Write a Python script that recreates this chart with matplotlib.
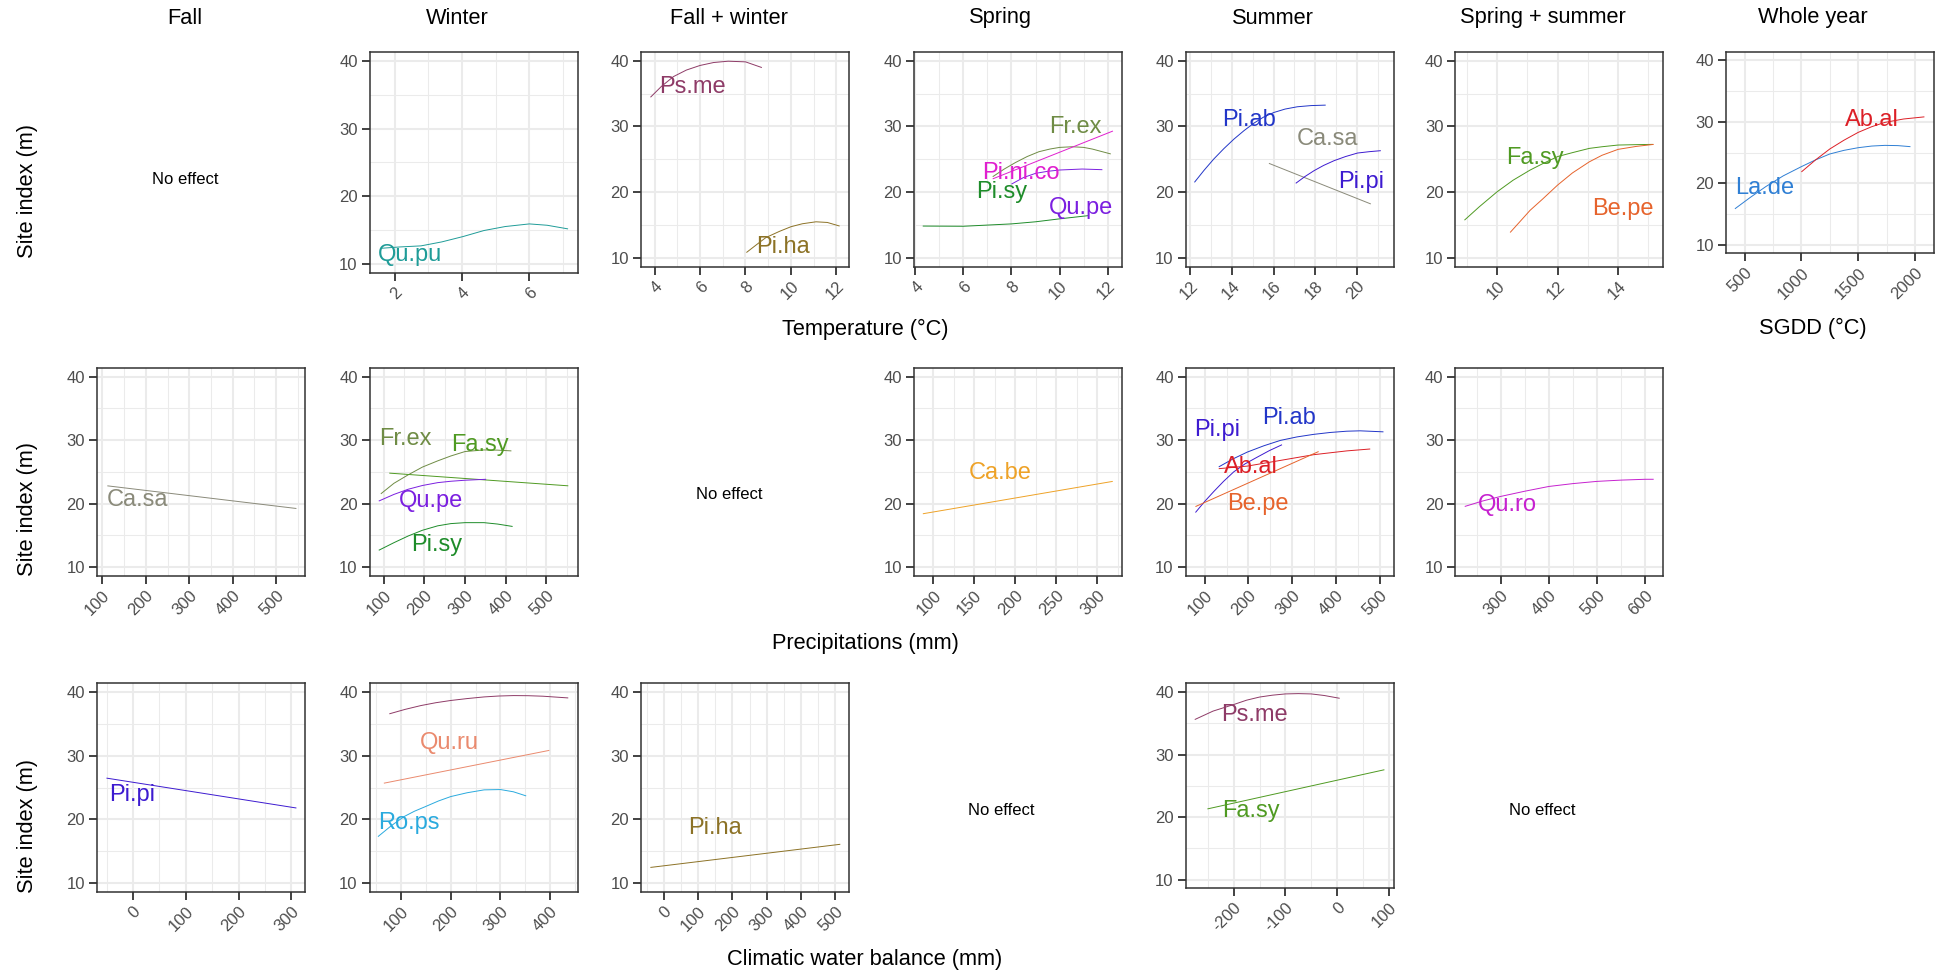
import matplotlib
matplotlib.use("Agg")
import matplotlib.pyplot as plt

plt.rcParams['font.family'] = ['Liberation Sans', 'DejaVu Sans']
plt.rcParams['axes.unicode_minus'] = False

# ------------------------------------------------------------------ data
col_titles = ["Fall", "Winter", "Fall + winter", "Spring", "Summer",
              "Spring + summer", "Whole year"]
row_label = "Site index (m)"
no_effect_text = "No effect"
y_ticks = [10, 20, 30, 40]

# Row 1 : temperature (SGDD for whole year)
T_win_Qupu_x = [1.59, 2.15, 2.78, 3.4, 4.03, 4.65, 5.28, 6.0, 6.53, 7.15]
T_win_Qupu_y = [12.3, 12.5, 12.66, 13.25, 14.04, 14.93, 15.52, 15.91, 15.71, 15.17]

T_fw_Psme_x = [3.82, 4.3, 4.83, 5.4, 6.0, 6.6, 7.24, 8.0, 8.72]
T_fw_Psme_y = [34.45, 36.1, 37.6, 38.6, 39.3, 39.75, 39.95, 39.85, 38.98]
T_fw_Piha_x = [8.04, 8.5, 8.9, 9.5, 10.0, 10.5, 11.1, 11.6, 12.14]
T_fw_Piha_y = [10.76, 12.0, 13.05, 14.0, 14.7, 15.15, 15.45, 15.35, 14.8]

T_spr_Pisy_x = [4.31, 6.0, 8.0, 9.0, 10.0, 11.22]
T_spr_Pisy_y = [14.8, 14.77, 15.13, 15.45, 15.9, 16.4]
T_spr_Qupe_x = [8.0, 8.5, 9.0, 9.5, 10.0, 10.94, 11.78]
T_spr_Qupe_y = [21.2, 22.2, 22.84, 23.15, 23.35, 23.5, 23.4]
T_spr_Frex_x = [7.22, 7.7, 8.17, 8.65, 9.14, 9.6, 10.0, 10.53, 11.0, 11.36, 12.13]
T_spr_Frex_y = [22.33, 23.5, 24.5, 25.4, 26.14, 26.55, 26.8, 26.9, 26.8, 26.55, 25.8]
T_spr_Pinico_x = [7.22, 12.22]
T_spr_Pinico_y = [22.0, 29.3]

T_sum_Piab_x = [12.19, 12.65, 13.12, 13.6, 14.09, 14.57, 15.05, 15.5, 16.01, 16.55, 17.14, 17.8, 18.5]
T_sum_Piab_y = [21.47, 23.3, 25.03, 26.6, 28.07, 29.35, 30.5, 31.4, 32.13, 32.65, 33.0, 33.18, 33.25]
T_sum_Casa_x = [15.77, 20.67]
T_sum_Casa_y = [24.37, 18.17]
T_sum_Pipi_x = [17.06, 17.5, 17.94, 18.4, 18.9, 19.45, 20.03, 20.6, 21.15]
T_sum_Pipi_y = [21.32, 22.35, 23.25, 24.05, 24.77, 25.4, 25.94, 26.15, 26.3]

T_ss_Fasy_x = [8.92, 9.41, 10.0, 10.53, 11.09, 11.5, 12.0, 12.49, 13.05, 13.47, 14.0, 14.6, 15.15]
T_ss_Fasy_y = [15.7, 17.74, 20.03, 21.8, 23.34, 24.3, 25.4, 26.0, 26.65, 26.9, 27.16, 27.22, 27.26]
T_ss_Bepe_x = [10.43, 10.74, 11.09, 11.5, 12.0, 12.49, 13.05, 13.47, 14.0, 14.6, 15.18]
T_ss_Bepe_y = [13.82, 15.4, 17.2, 18.9, 21.05, 22.9, 24.6, 25.6, 26.5, 26.95, 27.26]

G_year_Lade_x = [414, 550, 687, 840, 1000, 1125, 1250, 1375, 1500, 1620, 1736, 1850, 1961]
G_year_Lade_y = [15.84, 17.7, 19.46, 21.2, 22.7, 23.8, 24.76, 25.35, 25.78, 26.05, 26.16, 26.12, 25.95]
G_year_Abal_x = [1000, 1125, 1250, 1375, 1500, 1620, 1736, 1900, 2084]
G_year_Abal_y = [21.84, 23.8, 25.57, 27.0, 28.27, 29.2, 29.9, 30.45, 30.8]

# Row 2 : precipitations
P_fall_Casa_x = [111.6, 546.4]
P_fall_Casa_y = [22.8, 19.23]

P_win_Frex_x = [92.7, 125, 160, 195, 232.6, 265, 300, 346.6, 380, 414]
P_win_Frex_y = [21.54, 23.2, 24.53, 25.75, 26.73, 27.5, 28.2, 28.45, 28.42, 28.3]
P_win_Fasy_x = [113.5, 554]
P_win_Fasy_y = [24.8, 22.8]
P_win_Qupe_x = [87.6, 125, 160, 195, 232.6, 265, 300, 351.8]
P_win_Qupe_y = [20.4, 21.45, 22.26, 22.85, 23.3, 23.52, 23.68, 23.83]
P_win_Pisy_x = [87.6, 125, 160, 195, 232.6, 265, 300, 346.6, 380, 417]
P_win_Pisy_y = [12.65, 13.85, 14.9, 15.8, 16.5, 16.85, 17.0, 17.0, 16.78, 16.4]

P_spr_Cabe_x = [87.1, 319.1]
P_spr_Cabe_y = [18.4, 23.5]

P_sum_Pipi_x = [78.7, 100, 120.6, 143, 166.3, 192, 219.7, 248, 276.8]
P_sum_Pipi_y = [18.6, 20.35, 21.9, 23.5, 25.0, 26.25, 27.3, 28.35, 29.27]
P_sum_Piab_x = [132, 165, 196.9, 235, 273, 311, 349, 387, 425, 455.6, 509]
P_sum_Piab_y = [25.78, 27.05, 28.1, 29.1, 29.95, 30.5, 30.9, 31.2, 31.4, 31.46, 31.3]
P_sum_Abal_x = [132, 196.9, 273, 349, 425, 478.7]
P_sum_Abal_y = [25.5, 25.9, 26.8, 27.7, 28.3, 28.6]
P_sum_Bepe_x = [78.7, 360.6]
P_sum_Bepe_y = [19.53, 28.2]

P_ss_Quro_x = [225.4, 262, 300, 350, 400, 450, 500, 550, 600, 617.5]
P_ss_Quro_y = [19.55, 20.4, 21.13, 21.95, 22.7, 23.15, 23.5, 23.7, 23.83, 23.83]

# Row 3 : climatic water balance
W_fall_Pipi_x = [-50.1, 309.5]
W_fall_Pipi_y = [26.5, 21.8]

W_win_Psme_x = [76.3, 108, 139.8, 170, 200, 233, 267, 296, 326.3, 356, 385.6, 436.4]
W_win_Psme_y = [36.6, 37.3, 37.9, 38.35, 38.7, 39.0, 39.26, 39.4, 39.47, 39.45, 39.37, 39.1]
W_win_Quru_x = [65.3, 398.3]
W_win_Quru_y = [25.7, 30.86]
W_win_Rops_x = [53.4, 80, 105.9, 127, 148.3, 175, 200, 233, 267, 300, 326, 351.7]
W_win_Rops_y = [17.3, 19.0, 20.45, 21.3, 22.0, 22.9, 23.6, 24.2, 24.65, 24.7, 24.35, 23.7]

W_fw_Piha_x = [-39.2, 514.7]
W_fw_Piha_y = [12.46, 16.1]

W_sum_Psme_x = [-275.3, -240, -200, -175, -150, -125, -100, -75, -50, -25, 5]
W_sum_Psme_y = [35.6, 36.95, 38.0, 38.7, 39.2, 39.5, 39.7, 39.75, 39.7, 39.45, 39.0]
W_sum_Fasy_x = [-250.8, 91.5]
W_sum_Fasy_y = [21.3, 27.57]

# ------------------------------------------------------------------ styles
colors = {
    "Qu.pu": "#1f9c98", "Ps.me": "#8e3b67", "Pi.ha": "#8c7226",
    "Fr.ex": "#6f8c45", "Pi.ni.co": "#e01fcf", "Pi.sy": "#1e8c2a",
    "Qu.pe": "#7b1fe0", "Pi.ab": "#2236c8", "Ca.sa": "#8a8a7a",
    "Pi.pi": "#3d1bd0", "Fa.sy": "#4f9a22", "Be.pe": "#e6632c",
    "La.de": "#2f7fd4", "Ab.al": "#dc1f26", "Ca.be": "#eea227",
    "Qu.ro": "#c621cf", "Qu.ru": "#ea8a6e", "Ro.ps": "#2aaade",
}

W, H = 1955, 976
fig = plt.figure(figsize=(W / 100, H / 100), dpi=100)

col_left = [96.8, 369.5, 640.7, 913.6, 1185.5, 1455.4, 1725.6]
panel_w = 208
row_top = [51.7, 367.7, 683.3]

# panels: (row, col, bottom_px, xlim, xticks, curves, labels)
panels = [
    (0, 1, 273.3, (1.25, 7.43), [2, 4, 6],
     [("Qu.pu", T_win_Qupu_x, T_win_Qupu_y)],
     [("Qu.pu", 2.46, 11.3)]),
    (0, 2, 266.7, (3.39, 12.54), [4, 6, 8, 10, 12],
     [("Ps.me", T_fw_Psme_x, T_fw_Psme_y), ("Pi.ha", T_fw_Piha_x, T_fw_Piha_y)],
     [("Ps.me", 5.66, 35.98), ("Pi.ha", 9.63, 11.6)]),
    (0, 3, 266.7, (3.93, 12.58), [4, 6, 8, 10, 12],
     [("Pi.sy", T_spr_Pisy_x, T_spr_Pisy_y), ("Qu.pe", T_spr_Qupe_x, T_spr_Qupe_y),
      ("Fr.ex", T_spr_Frex_x, T_spr_Frex_y), ("Pi.ni.co", T_spr_Pinico_x, T_spr_Pinico_y)],
     [("Fr.ex", 10.64, 29.95), ("Pi.ni.co", 8.375, 22.9), ("Pi.sy", 7.58, 19.95),
      ("Qu.pe", 10.875, 17.5)]),
    (0, 4, 266.7, (11.76, 21.76), [12, 14, 16, 18, 20],
     [("Pi.ab", T_sum_Piab_x, T_sum_Piab_y), ("Ca.sa", T_sum_Casa_x, T_sum_Casa_y),
      ("Pi.pi", T_sum_Pipi_x, T_sum_Pipi_y)],
     [("Pi.ab", 14.81, 31.0), ("Ca.sa", 18.58, 28.07), ("Pi.pi", 20.19, 21.47)]),
    (0, 5, 266.7, (8.62, 15.5), [10, 12, 14],
     [("Fa.sy", T_ss_Fasy_x, T_ss_Fasy_y), ("Be.pe", T_ss_Bepe_x, T_ss_Bepe_y)],
     [("Fa.sy", 11.26, 25.23), ("Be.pe", 14.17, 17.38)]),
    (0, 6, 253.3, (332, 2165), [500, 1000, 1500, 2000],
     [("La.de", G_year_Lade_x, G_year_Lade_y), ("Ab.al", G_year_Abal_x, G_year_Abal_y)],
     [("La.de", 679, 19.2), ("Ab.al", 1624, 30.3)]),
    (1, 0, 576, (87.4, 565.7), [100, 200, 300, 400, 500],
     [("Ca.sa", P_fall_Casa_x, P_fall_Casa_y)],
     [("Ca.sa", 182.1, 20.5)]),
    (1, 1, 576, (64.8, 576.7), [100, 200, 300, 400, 500],
     [("Fr.ex", P_win_Frex_x, P_win_Frex_y), ("Fa.sy", P_win_Fasy_x, P_win_Fasy_y),
      ("Qu.pe", P_win_Qupe_x, P_win_Qupe_y), ("Pi.sy", P_win_Pisy_x, P_win_Pisy_y)],
     [("Fr.ex", 152.8, 30.14), ("Fa.sy", 336.3, 29.25), ("Qu.pe", 217.1, 20.34),
      ("Pi.sy", 229.5, 13.52)]),
    (1, 3, 576, (75.8, 329.9), [100, 150, 200, 250, 300],
     [("Ca.be", P_spr_Cabe_x, P_spr_Cabe_y)],
     [("Ca.be", 181.4, 24.8)]),
    (1, 4, 576, (55.9, 532), [100, 200, 300, 400, 500],
     [("Pi.pi", P_sum_Pipi_x, P_sum_Pipi_y), ("Pi.ab", P_sum_Piab_x, P_sum_Piab_y),
      ("Ab.al", P_sum_Abal_x, P_sum_Abal_y), ("Be.pe", P_sum_Bepe_x, P_sum_Bepe_y)],
     [("Pi.pi", 128.3, 31.6), ("Pi.ab", 292, 33.5), ("Ab.al", 204.5, 25.8),
      ("Be.pe", 221.2, 19.9)]),
    (1, 5, 576, (206, 637.7), [300, 400, 500, 600],
     [("Qu.ro", P_ss_Quro_x, P_ss_Quro_y)],
     [("Qu.ro", 313.2, 19.8)]),
    (2, 0, 892, (-68.4, 325.4), [0, 100, 200, 300],
     [("Pi.pi", W_fall_Pipi_x, W_fall_Pipi_y)],
     [("Pi.pi", -0.8, 23.87)]),
    (2, 1, 892, (36.4, 455), [100, 200, 300, 400],
     [("Ps.me", W_win_Psme_x, W_win_Psme_y), ("Qu.ru", W_win_Quru_x, W_win_Quru_y),
      ("Ro.ps", W_win_Rops_x, W_win_Rops_y)],
     [("Qu.ru", 196.6, 32.0), ("Ro.ps", 116.1, 19.5)]),
    (2, 2, 892, (-67.4, 539.2), [0, 100, 200, 300, 400, 500],
     [("Pi.ha", W_fw_Piha_x, W_fw_Piha_y)],
     [("Pi.ha", 150.7, 18.6)]),
    (2, 4, 888.3, (-293.2, 109.1), [-200, -100, 0, 100],
     [("Ps.me", W_sum_Psme_x, W_sum_Psme_y), ("Fa.sy", W_sum_Fasy_x, W_sum_Fasy_y)],
     [("Ps.me", -159, 36.25), ("Fa.sy", -167, 21.04)]),
]

ylim = (8.6, 41.4)


def add_px_axes(left, top, width, bottom):
    return fig.add_axes([left / W, 1 - bottom / H, width / W, (bottom - top) / H])


for (r, c, bottom, xlim, xticks, curves, labels) in panels:
    ax = add_px_axes(col_left[c], row_top[r], panel_w, bottom)
    ax.set_xlim(xlim)
    ax.set_ylim(ylim)
    ax.set_xticks(xticks)
    ax.set_yticks(y_ticks)
    step = xticks[1] - xticks[0]
    cand = [xticks[0] - step / 2] + [t + step / 2 for t in xticks]
    ax.set_xticks([m for m in cand if xlim[0] < m < xlim[1]], minor=True)
    ax.set_yticks([15, 25, 35], minor=True)
    ax.grid(which='major', color='#ebebeb', lw=1.45)
    ax.grid(which='minor', color='#ebebeb', lw=0.75)
    ax.set_axisbelow(True)
    ax.tick_params(which='minor', length=0)
    ax.tick_params(which='major', length=6, width=1.3, color='#333333',
                   labelsize=12, labelcolor='#4d4d4d', pad=2.5)
    for s in ax.spines.values():
        s.set_color('#333333')
        s.set_linewidth(1.1)
    for lab in ax.get_xticklabels():
        lab.set_rotation(45)
        lab.set_ha('right')
        lab.set_va('top')
        lab.set_rotation_mode('anchor')
    for name, xs, ys in curves:
        ax.plot(xs, ys, color=colors[name], lw=0.7, solid_capstyle='butt',
                solid_joinstyle='round')
    for name, lx, ly in labels:
        ax.text(lx, ly, name, color=colors[name], fontsize=17,
                ha='center', va='center')


def ftext(x, y, s, **kw):
    fig.text(x / W, 1 - y / H, s, ha='center', va='center', **kw)


title_x = [185.2, 457.5, 729.2, 1000.7, 1273, 1542.5, 1813]
for t, x in zip(col_titles, title_x):
    ftext(x, 18, t, fontsize=15.7, color='black')

for y in [191, 509, 826]:
    ftext(27, y, row_label, fontsize=15.7, rotation=90, color='black')

ftext(865, 329, "Temperature (°C)", fontsize=15.7)
ftext(1813, 328, "SGDD (°C)", fontsize=15.7)
ftext(865, 644, "Precipitations (mm)", fontsize=15.7)
ftext(865, 960, "Climatic water balance (mm)", fontsize=15.7)

for (x, y) in [(185.2, 179), (729.2, 494.3), (1001, 810.7), (1542.5, 810.7)]:
    ftext(x, y, no_effect_text, fontsize=12, color='black')

fig.savefig("out.png", dpi=100)
